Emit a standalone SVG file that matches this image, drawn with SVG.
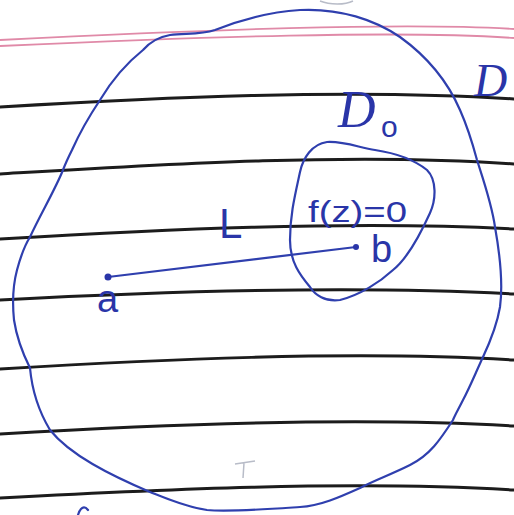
<svg xmlns="http://www.w3.org/2000/svg" width="514" height="515" viewBox="0 0 514 515">
<style>
.rule{fill:none;stroke:#1c1c1c;stroke-width:3;stroke-linecap:round}
.pink{fill:none;stroke:#e08aa8;stroke-width:1.8}
.ink{fill:none;stroke:#2f3fae;stroke-width:2.2;stroke-linecap:round;stroke-linejoin:round}
.lbl{fill:#2a35a8;font-family:"Liberation Sans",Arial,sans-serif}
.scr{fill:#2a35a8;font-family:"Liberation Serif","Times New Roman",serif;font-style:italic}
.faint{fill:none;stroke:#b8bcc8;stroke-width:1.5}
</style>
<rect width="514" height="515" fill="#ffffff"/>
<g id="paper">
<path class="pink" d="M0,40 C200,30 400,22 514,29"/>
<path class="pink" stroke="#d8a0b4" d="M0,46 C200,37 400,30 514,38"/>
<path class="rule" d="M0,107 C150,98 350,88 514,99"/>
<path class="rule" d="M0,174 C150,165 350,152 514,164"/>
<path class="rule" d="M0,239 C150,230 350,220 514,229"/>
<path class="rule" d="M0,300 C150,292 350,285 514,294"/>
<path class="rule" d="M0,369 C150,360 350,350 514,360"/>
<path class="rule" d="M0,434 C150,425 350,416 514,426"/>
<path class="rule" d="M0,498 C150,490 350,480 514,490"/>
<path class="faint" d="M320,1 C330,5 345,5 353,1"/>
<path class="faint" d="M235,464 L255,461 M244,463 L243,478"/>
<path class="ink" d="M78,515 C80,508 84,505 88,510"/>
</g>
<g id="region-D">
<path class="ink" d="M300,10 C340,8 375,20 400,37 C425,55 447,80 460,110 C468,128 473,145 477,160 C485,185 492,205 495,227 C500,255 503,285 500,307 C497,325 490,342 483,357 C476,372 470,387 463,400 C458,410 455,415 453,420 C440,440 430,455 410,465 C390,475 375,480 360,488 C340,497 320,506 300,507 C270,509 230,512 207,510 C185,507 165,498 150,492 C110,475 70,455 50,430 C38,410 32,390 30,368 C25,358 17,340 14,320 C12,300 13,285 17,270 C21,255 25,245 30,237 C40,215 55,190 63,170 C66,162 69,156 72,150 C80,132 90,115 100,100 C112,80 128,62 143,50 C150,42 158,37 170,35 C185,33 200,35 215,30 C240,20 270,12 300,10 Z"/>
<text class="scr" x="474" y="96" font-size="46">D</text>
</g>
<g id="region-D0">
<text class="scr" x="338" y="127" font-size="52">D</text>
<text class="lbl" x="381" y="137" font-size="30">o</text>
</g>
<g id="region-zero">
<path class="ink" d="M327,142 C345,141 360,148 375,150 C395,153 412,158 427,170 C437,180 436,200 430,213 C420,235 408,258 393,270 C380,282 360,295 340,300 C325,302 315,295 310,287 C300,275 290,262 290,240 C290,215 295,195 300,172 C303,158 312,144 327,142 Z"/>
<text class="lbl" x="308" y="222" font-size="30" textLength="99" lengthAdjust="spacingAndGlyphs">f(z)=0</text>
</g>
<g id="connectors">
<path class="ink" d="M108,277 L356,247"/>
<text class="lbl" x="219" y="238" font-size="42">L</text>
</g>
<g id="point-a">
<circle cx="108" cy="277" r="3.5" fill="#2a35a8"/>
<text class="lbl" x="97" y="312" font-size="38">a</text>
</g>
<g id="point-b">
<circle cx="356" cy="247" r="3" fill="#2a35a8"/>
<text class="lbl" x="371" y="262" font-size="38">b</text>
</g>
</svg>
